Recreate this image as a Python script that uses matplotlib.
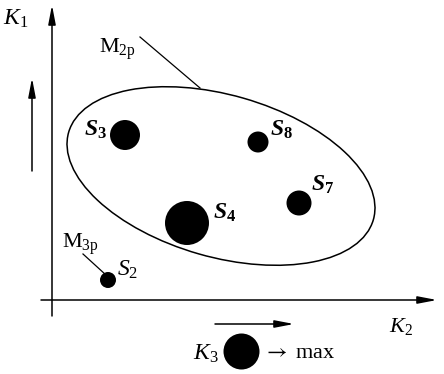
import matplotlib
matplotlib.use('Agg')
import matplotlib.pyplot as plt
from matplotlib.patches import Ellipse

plt.rcParams['font.family'] = ['Liberation Serif', 'DejaVu Serif']
plt.rcParams['mathtext.fontset'] = 'custom'
plt.rcParams['mathtext.rm'] = 'Liberation Serif'
plt.rcParams['mathtext.it'] = 'Liberation Serif:italic'
plt.rcParams['mathtext.bf'] = 'Liberation Serif:bold'
plt.rcParams['mathtext.bfit'] = 'Liberation Serif:bold:italic'

# alternativas S_i: posicion (K2, K1) y diametro del punto (K3)
nombres = ['S3', 'S8', 'S7', 'S4', 'S2']
k2 = [125, 258, 299, 187, 108]
k1 = [135, 142, 203, 223, 280]
k3 = [30, 21, 25, 44, 16]
etiquetas = [r'$\mathbfit{S}_\mathbf{3}$', r'$\mathbfit{S}_\mathbf{8}$',
             r'$\mathbfit{S}_\mathbf{7}$', r'$\mathbfit{S}_\mathbf{4}$',
             r'$S_2$']

W, H = 444, 374
fig = plt.figure(figsize=(W / 100, H / 100), dpi=100)
ax = fig.add_axes([0, 0, 1, 1])
ax.set_xlim(0, W)
ax.set_ylim(H, 0)
ax.axis('off')

flecha = dict(arrowstyle='-|>,head_length=1.15,head_width=0.22',
              color='black', lw=1.1, shrinkA=0, shrinkB=0, mutation_scale=10)

# ejes
ax.annotate('', xy=(52, 5), xytext=(52, 316), arrowprops=flecha)
ax.annotate('', xy=(437, 300), xytext=(41, 300), arrowprops=flecha)
# flechas auxiliares
ax.annotate('', xy=(32, 78), xytext=(32, 171), arrowprops=flecha)
ax.annotate('', xy=(294, 324), xytext=(215, 324), arrowprops=flecha)

# region M2p
ax.add_patch(Ellipse((221, 176), 317, 162, angle=16, fill=False,
                     lw=1.1, color='black'))
ax.plot([140, 200], [37, 88], color='black', lw=0.9)
ax.plot([83, 106], [254, 275], color='black', lw=0.9)

s = [(d * 0.72) ** 2 for d in k3]
ax.scatter(k2, k1, s=s, color='black', zorder=3, linewidths=0)

pos_etq = [(84, 136), (270, 136), (311, 191), (213, 219), (117, 276)]
for txt, (x, y) in zip(etiquetas, pos_etq):
    ax.text(x, y, txt, fontsize=17, ha='left', va='baseline')

ax.text(3, 25, r'$K_1$', fontsize=17, ha='left', va='baseline')
ax.text(389, 332, r'$K_2$', fontsize=16, ha='left', va='baseline')
ax.text(193, 360, r'$K_3$', fontsize=17, ha='left', va='baseline')
ax.text(99, 53, r'$\mathrm{M}_\mathrm{2p}$', fontsize=16, ha='left', va='baseline')
ax.text(62, 248, r'$\mathrm{M}_\mathrm{3p}$', fontsize=16, ha='left', va='baseline')

# leyenda K3
ax.scatter([241], [351], s=(36 * 0.72) ** 2, color='black', linewidths=0)
ax.text(263, 358, r'$\rightarrow$ max', fontsize=16, ha='left', va='baseline',
        math_fontfamily='stix')

fig.savefig('out.png', dpi=100)
